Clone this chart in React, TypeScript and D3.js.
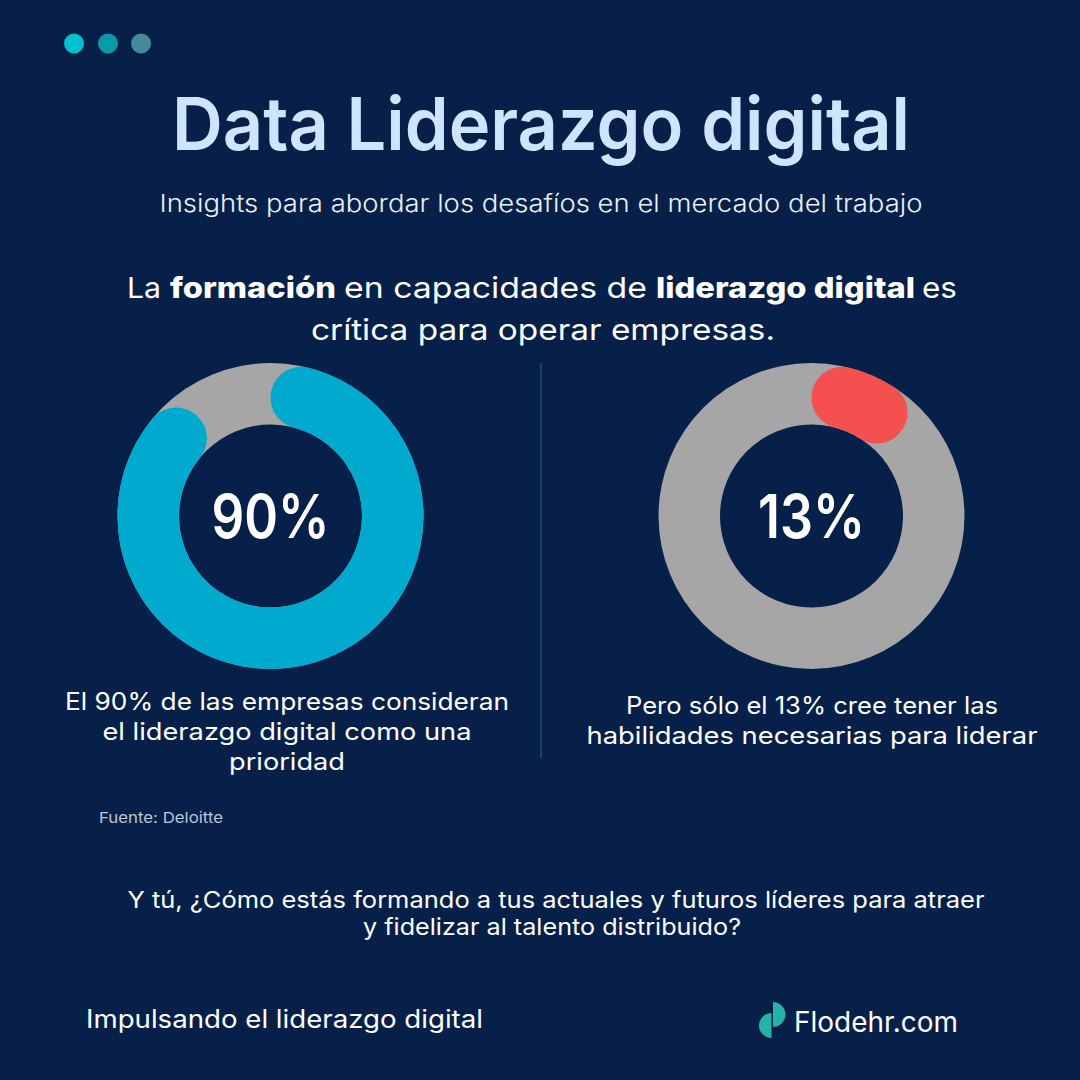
import React from "react";
import * as d3 from "d3";

const bg = "#062049";
const donutValues = [90, 13];
const donutColors = ["#00a9ce", "#f55050"];
const restColor = "#a6a6a6";
const donutLabels = ["90%", "13%"];
const donutLabelWidths = [118, 107];
const donutCx = [270.5, 811.5];
const dots = [
  { x: 74, c: "#00bfcf" },
  { x: 108, c: "#0a9aa8" },
  { x: 141, c: "#458a9b" },
];
const FONT = "Inter, 'Noto Sans', sans-serif";

type Line = {
  t: string;
  x: number;
  y: number;
  size: number;
  w?: number;
  weight?: number;
  fill?: string;
  anchor?: string;
};

const lines: Line[] = [
  { t: "Data Liderazgo digital", x: 541, y: 150, size: 73, w: 738, weight: 600, fill: "#cfe5ff", anchor: "middle" },
  { t: "Insights para abordar los desafíos en el mercado del trabajo", x: 541, y: 212, size: 24, w: 763, weight: 300, fill: "#eaf1fa", anchor: "middle" },
  { t: "La", x: 127, y: 298, size: 29, w: 34 },
  { t: "formación", x: 170, y: 298, size: 29, w: 166, weight: 800 },
  { t: "en capacidades de", x: 344, y: 298, size: 29, w: 303 },
  { t: "liderazgo digital", x: 656, y: 298, size: 29, w: 259, weight: 800 },
  { t: "es", x: 922, y: 298, size: 29, w: 35 },
  { t: "crítica para operar empresas.", x: 543, y: 340, size: 29, w: 464, anchor: "middle" },
  { t: "El 90% de las empresas consideran", x: 287, y: 710, size: 24, w: 444, anchor: "middle" },
  { t: "el liderazgo digital como una", x: 287, y: 740, size: 24, w: 369, anchor: "middle" },
  { t: "prioridad", x: 287, y: 770, size: 24, w: 116, anchor: "middle" },
  { t: "Pero sólo el 13% cree tener las", x: 812, y: 714, size: 24, w: 372, anchor: "middle" },
  { t: "habilidades necesarias para liderar", x: 812, y: 744, size: 24, w: 451, anchor: "middle" },
  { t: "Fuente: Deloitte", x: 99, y: 823, size: 15, w: 124, fill: "#bcc6d4" },
  { t: "Y tú, ¿Cómo estás formando a tus actuales y futuros líderes para atraer", x: 556, y: 908, size: 23, w: 857, anchor: "middle" },
  { t: "y fidelizar al talento distribuido?", x: 552, y: 935, size: 23, w: 378, anchor: "middle" },
  { t: "Impulsando el liderazgo digital", x: 86, y: 1028, size: 25, w: 397 },
  { t: "Flodehr.com", x: 794, y: 1032, size: 28, w: 164 },
];

function Donut({ value, color, cx, label, labelW }: { value: number; color: string; cx: number; label: string; labelW: number }) {
  const cy = 516;
  const arc = d3.arc<d3.PieArcDatum<number>>().innerRadius(91.5).outerRadius(153);
  const pie = d3.pie<number>().sort(null)([value, 100 - value]);
  return (
    <g transform={`translate(${cx},${cy})`}>
      <path d={arc({ ...pie[0], startAngle: 0, endAngle: 2 * Math.PI })!} fill={restColor} />
      <path d={arc.cornerRadius(30.5)(pie[0])!} fill={color} />
      <text y={22} textAnchor="middle" fontFamily={FONT} fontWeight={600} fontSize={60} fill="#fff"
        textLength={labelW} lengthAdjust="spacingAndGlyphs">{label}</text>
    </g>
  );
}

export default function App() {
  return (
    <svg width={1080} height={1080} viewBox="0 0 1080 1080" style={{ position: "fixed", left: 0, top: 0 }}>
      <rect width={1080} height={1080} fill={bg} />
      {dots.map((d) => <circle key={d.x} cx={d.x} cy={43.5} r={10} fill={d.c} />)}
      {lines.map((l, i) => (
        <text key={i} x={l.x} y={l.y} fontFamily={FONT} fontSize={l.size} fontWeight={l.weight ?? 400}
          fill={l.fill ?? "#fff"} textAnchor={l.anchor ?? "start"}
          textLength={l.w} lengthAdjust="spacingAndGlyphs">{l.t}</text>
      ))}
      <line x1={541} x2={541} y1={363} y2={758} stroke="#1b3f73" strokeWidth={2} />
      {donutValues.map((v, i) => (
        <Donut key={i} value={v} color={donutColors[i]} cx={donutCx[i]} label={donutLabels[i]} labelW={donutLabelWidths[i]} />
      ))}
      <path d="M773 1002 A 12.5 12.5 0 0 1 773 1027 Z" fill="#25b3a8" />
      <path d="M771.5 1013 L771.5 1038 A 12.5 12.5 0 0 1 771.5 1013 Z" fill="#25b3a8" />
    </svg>
  );
}
